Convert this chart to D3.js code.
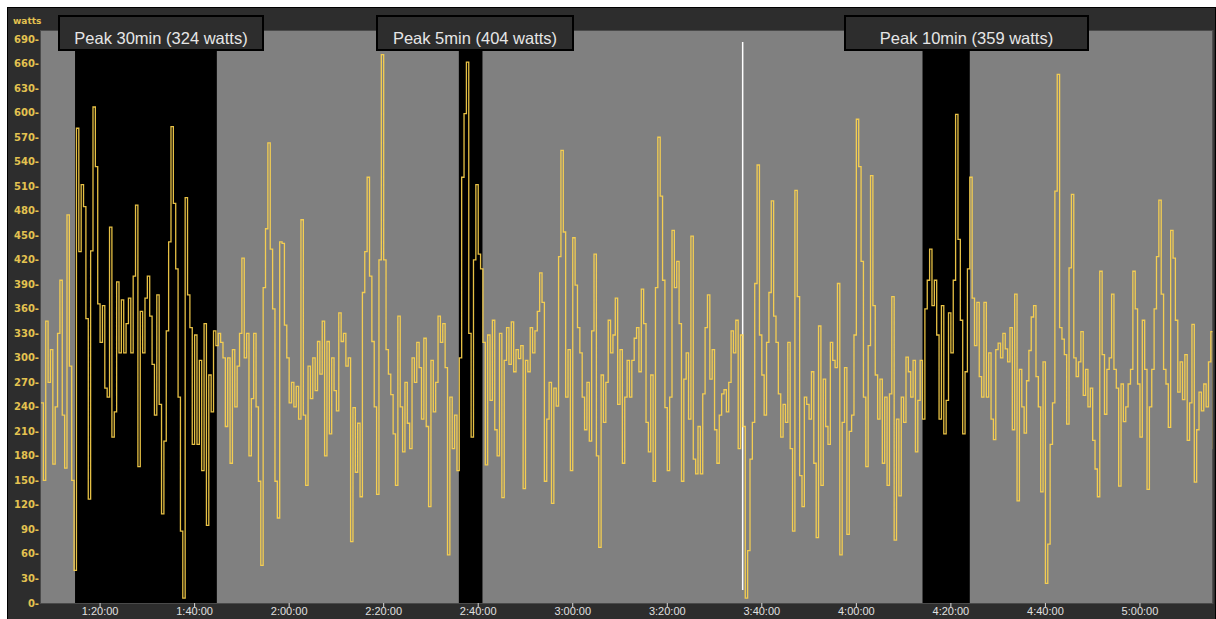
<!DOCTYPE html>
<html>
<head>
<meta charset="utf-8">
<script src="https://cdn.jsdelivr.net/npm/d3@7"></script>
<style>
  html, body { margin: 0; background: #fff; }
  svg { display: block; }
</style>
</head>
<body>
<svg id="chart" width="1216" height="619"></svg>
<script>
'use strict';

/* power samples, one every 30 s, first one at 1:07:30 */
const startMin = 67.5;
const stepMin = 0.5;

const wattsLead = [245,150,345,270,310,170,240,330,395,230,165,475,290,150,40];
const wattsPeak30 = [581,430,512,485,348,127,431,607,534,366,319,364,263,252,460,203,234,393,306,371,
    306,342,373,306,400,487,167,357,306,373,400,351,292,230,377,243,109,198,333,442,
    583,489,409,252,88,6,496,377,337,194,328,194,297,162,342,95,279,234,333,315];
const wattsMidA = [330,319,300,216,300,171,310,240,290,330,422,300,330,180,250,330,240,149,46,386,
    458,563,433,360,149,104,442];
const wattsMidB = [440,340,300,245,270,240,265,225,469,230,144,290,250,300,260,320,280,345,180,320,
    207,300,260,235,355,320,330,290,300,75,239,160,220,130,380,430,521,400,320,240,
    133,420,671,420,310,280,255,207,144,351,240,185,270,220,189,300,270,319,288,225,
    324,216,118,297,234,270,351,319,342,288,59,252,189,230,162,300];
const wattsPeak5 = [521,599,662,330,203,420,512,427,409,319];
const wattsAfter5 = [169,328,248,346,212,180,330,129,297,337,292,344,283,310,
    299,315,140,297,283,337,306,333,357,404,368,149,225,270,122,263,241,424,554,454,
    252,310,162,447,389,337,306,252,212,270,198,333,427,180,68,279,221,270,346,306,
    328,373,243,310,171,252,297,252,297,324,337,283,384,342,221,185,279,149,386,570,
    498,395,239,162,252,456,386,418,342,149,274,306,225,449,176,158,216,158,256,337,
    377,274,310,212,171,230,256,261,234,270,333,306,346,189,328,216];
const wattsAfterLap = [6,64,176,221,391,536,
    328,279,230,319,380,492,351,319,256,203,243,221,319,189,88,505,375,156,118,252,
    243,225,283,171,80,339,144,274,216,194,319,297,288,391,59,221,288,84,210,230,
    328,592,534,418,252,167,315,523,364,279,225,274,171,252,144,256,375,77,225,131,
    252,221,301,283,252,297,185,248,297,225];
const wattsPeak10 = [360,395,433,364,395,328,225,364,207,248,355,306,395,598,445,346,207,283,409,521,373];
const wattsTail = [315,368,277,252,368,252,306,225,200,310,
    318,300,330,311,295,337,212,378,125,286,240,208,272,309,350,364,277,240,136,295,
    24,72,194,245,504,647,337,323,304,219,410,500,300,277,295,332,254,286,240,263,
    199,164,130,406,304,231,286,300,378,286,263,143,268,222,240,268,286,406,360,268,
    203,346,286,139,240,286,360,424,493,378,286,268,215,456,422,346,258,295,249,304,
    199,245,341,148,212,258,235,268,240,295,332,189,440];

const yTicks = [0,30,60,90,120,150,180,210,240,270,300,330,360,390,420,450,480,510,540,570,600,630,660,690];
const timeTicks = [80,100,120,140,160,180,200,220,240,260,280,300];
const timeTickLabels = ['1:20:00','1:40:00','2:00:00','2:20:00','2:40:00','3:00:00','3:20:00','3:40:00',
    '4:00:00','4:20:00','4:40:00','5:00:00'];

const peakLabels = ['Peak 30min (324 watts)', 'Peak 5min (404 watts)', 'Peak 10min (359 watts)'];
const peakStart = [74.7, 155.9, 254.0];
const peakLength = [30, 5, 10];
const lapMarkerMin = 215.95;

/* layout */
const plot = { left: 41, right: 1212.5, top: 31, bottom: 603 };
const peakBoxes = [[59, 204], [377, 196], [845, 243]];   // x, width of label boxes
const frameColor = '#2d2d2d';
const lineColor = '#ffd54c';
const labelGold = '#e3c250';

const watts = [].concat(wattsLead, wattsPeak30, wattsMidA, wattsMidB, wattsPeak5,
    wattsAfter5, wattsAfterLap, wattsPeak10, wattsTail);
const samples = watts.map((w, i) => ({ t: startMin + i * stepMin, w }));

const svg = d3.select('#chart');

const x = d3.scaleLinear().domain([67.5, 315.35]).range([plot.left, plot.right]);
const y = d3.scaleLinear().domain([0, 700]).range([plot.bottom, plot.top]);

/* frame */
svg.append('rect').attr('x', 7.5).attr('y', 7.5).attr('width', 1208).attr('height', 612)
    .attr('fill', frameColor).attr('stroke', '#000').attr('stroke-width', 1);

svg.append('defs').append('clipPath').attr('id', 'plotClip')
    .append('rect').attr('x', plot.left).attr('y', plot.top)
    .attr('width', plot.right - plot.left).attr('height', plot.bottom - plot.top);

svg.append('rect').attr('x', plot.left).attr('y', plot.top)
    .attr('width', plot.right - plot.left).attr('height', plot.bottom - plot.top)
    .attr('fill', '#808080');

/* peak windows */
svg.append('g').attr('clip-path', 'url(#plotClip)')
    .selectAll('rect').data(peakStart).join('rect')
    .attr('x', d => x(d))
    .attr('y', plot.top)
    .attr('width', (d, i) => x(d + peakLength[i]) - x(d))
    .attr('height', plot.bottom - plot.top)
    .attr('fill', '#000');

svg.append('rect').attr('x', plot.left - 0.5).attr('y', plot.top - 0.5)
    .attr('width', plot.right - plot.left + 1).attr('height', plot.bottom - plot.top + 1)
    .attr('fill', 'none').attr('stroke', '#4a4a4a');

/* lap marker */
svg.append('line')
    .attr('x1', x(lapMarkerMin)).attr('x2', x(lapMarkerMin))
    .attr('y1', 42).attr('y2', 590)
    .attr('stroke', '#fff').attr('stroke-width', 1.5);

/* power trace (stepped, as the sampled file is drawn) */
const line = d3.line().x(d => x(d.t)).y(d => y(d.w)).curve(d3.curveStepAfter);
svg.append('path')
    .datum(samples)
    .attr('clip-path', 'url(#plotClip)')
    .attr('d', line)
    .attr('fill', 'none')
    .attr('stroke', lineColor)
    .attr('stroke-opacity', 0.9)
    .attr('stroke-width', 1.3);

/* y axis */
const yAxis = svg.append('g').attr('font-family', 'DejaVu Sans, sans-serif')
    .attr('font-size', 10).attr('font-weight', 'bold').attr('fill', labelGold);
yAxis.selectAll('text').data(yTicks).join('text')
    .attr('x', 39).attr('y', d => y(d) + 3.5)
    .attr('text-anchor', 'end')
    .text(d => d + '-');
yAxis.append('text').attr('x', 13).attr('y', 24).attr('font-size', 9).text('watts');

/* x axis */
const xAxis = svg.append('g');
xAxis.selectAll('line').data(timeTicks).join('line')
    .attr('x1', d => x(d)).attr('x2', d => x(d))
    .attr('y1', plot.bottom).attr('y2', plot.bottom + 4)
    .attr('stroke', '#d8d8d8').attr('stroke-width', 1);
xAxis.selectAll('text').data(timeTicks).join('text')
    .attr('x', d => x(d)).attr('y', 615)
    .attr('text-anchor', 'middle')
    .attr('font-family', 'Liberation Sans, Arial, sans-serif')
    .attr('font-size', 11).attr('fill', '#e0e0e0')
    .text((d, i) => timeTickLabels[i]);

/* peak labels */
const lab = svg.append('g').selectAll('g').data(peakLabels).join('g');
lab.append('rect')
    .attr('x', (d, i) => peakBoxes[i][0]).attr('y', 16)
    .attr('width', (d, i) => peakBoxes[i][1]).attr('height', 34)
    .attr('fill', frameColor).attr('stroke', '#000').attr('stroke-width', 2);
lab.append('text')
    .attr('x', (d, i) => peakBoxes[i][0] + peakBoxes[i][1] / 2).attr('y', 44)
    .attr('text-anchor', 'middle')
    .attr('font-family', 'Liberation Sans, Arial, sans-serif')
    .attr('font-size', 16.5).attr('fill', '#e6e6e6')
    .text(d => d);
</script>
</body>
</html>
